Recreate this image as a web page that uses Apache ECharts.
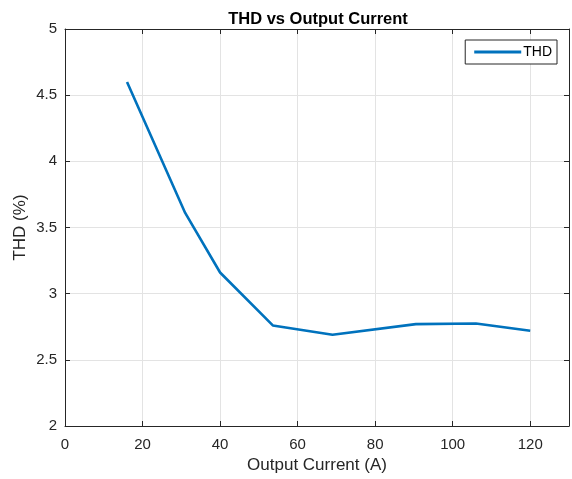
<!DOCTYPE html>
<html><head><meta charset="utf-8">
<script src="https://cdn.jsdelivr.net/npm/echarts@6/dist/echarts.min.js"></script>
<style>html,body{margin:0;padding:0;background:#fff}#c{width:572px;height:479px}</style>
</head><body><div id="c"></div>
<script>
const current = [16, 31, 40, 53.6, 69, 90.5, 106, 120];
const thd = [4.6, 3.61, 3.16, 2.76, 2.69, 2.77, 2.775, 2.72];
const xTicks = [0, 20, 40, 60, 80, 100, 120];
const yTicks = [2, 2.5, 3, 3.5, 4, 4.5, 5];

const font = 'Liberation Sans, Arial, Helvetica, sans-serif';
const axCol = '#262626';
const chart = echarts.init(document.getElementById('c'));
const baseAxis = {
  axisLine: {show: true, onZero: false, lineStyle: {color: axCol, width: 1}},
  axisTick: {show: true, inside: true, length: 5, lineStyle: {color: axCol}},
  splitLine: {show: false},
  axisLabel: {show: false}
};
chart.setOption({
  animation: false,
  title: {text: 'THD vs Output Current', left: 313, textAlign: 'center', top: 6,
    textStyle: {fontFamily: font, fontSize: 16.5, fontWeight: 'bold', color: '#000'}},
  legend: {data: ['THD'], right: 15, top: 40, orient: 'vertical',
    borderColor: axCol, borderWidth: 1, borderRadius: 0, padding: [5, 5, 5, 9],
    backgroundColor: '#fff',
    icon: 'rect', itemWidth: 47, itemHeight: 3, itemGap: 4,
    textStyle: {fontFamily: font, fontSize: 14, color: '#000', padding: [0, 0, 0, -3]}},
  grid: {left: 65, right: 2, top: 29, bottom: 52, containLabel: false},
  xAxis: [{
    type: 'value', min: 0, max: 130, interval: 20,
    name: 'Output Current (A)', nameLocation: 'middle', nameGap: 31, nameMoveOverlap: false,
    nameTextStyle: {fontFamily: font, fontSize: 17, color: axCol},
    axisLine: {show: true, onZero: false, lineStyle: {color: axCol}},
    axisTick: {show: true, inside: true, length: 5, lineStyle: {color: axCol}},
    axisLabel: {fontFamily: font, fontSize: 15, color: axCol, margin: 11,
      formatter: v => xTicks.includes(v) ? String(v) : ''},
    splitLine: {show: true, lineStyle: {color: '#e3e3e3', width: 1}}
  }, Object.assign({type: 'value', position: 'top', min: 0, max: 130, interval: 20}, baseAxis)],
  yAxis: [{
    type: 'value', min: 2, max: 5, interval: 0.5,
    name: 'THD (%)', nameLocation: 'middle', nameGap: 36, nameMoveOverlap: false,
    nameTextStyle: {fontFamily: font, fontSize: 17, color: axCol},
    axisLine: {show: true, onZero: false, lineStyle: {color: axCol}},
    axisTick: {show: true, inside: true, length: 5, lineStyle: {color: axCol}},
    axisLabel: {fontFamily: font, fontSize: 15, color: axCol, margin: 8,
      formatter: v => yTicks.includes(v) ? String(v) : ''},
    splitLine: {show: true, lineStyle: {color: '#e3e3e3', width: 1}}
  }, Object.assign({type: 'value', position: 'right', min: 2, max: 5, interval: 0.5}, baseAxis)],
  series: [{
    name: 'THD', type: 'line', showSymbol: false, symbol: 'none',
    data: current.map((x, i) => [x, thd[i]]),
    lineStyle: {color: '#0072BD', width: 2.6}, itemStyle: {color: '#0072BD'}
  }]
});
</script></body></html>
